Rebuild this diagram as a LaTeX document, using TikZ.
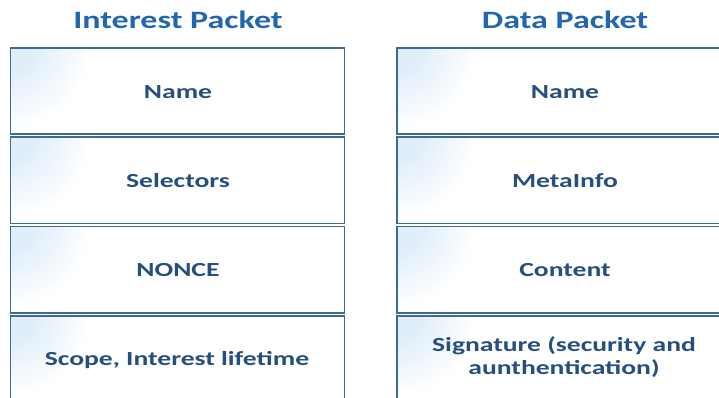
\documentclass[tikz,border=0pt]{standalone}
\usepackage{fontspec}
\setmainfont{Carlito}
\usepackage{graphicx}
\definecolor{titleblue}{HTML}{2366B0}
\definecolor{textblue}{HTML}{25507E}
\definecolor{edgeblue}{HTML}{3F6A94}
\definecolor{tintblue}{HTML}{E0EEFA}
\pgfdeclareradialshading{cornerglow}{\pgfpointorigin}{color(0bp)=(tintblue); color(1.5bp)=(tintblue); color(5bp)=(white); color(50bp)=(white)}
\tikzset{
  field/.style={draw=edgeblue, line width=1.9pt, minimum width=#1, minimum height=86.5pt,
    inner sep=0pt, anchor=north west,
    path picture={\shade[shading=cornerglow]
      ([xshift=-400pt,yshift=400pt]path picture bounding box.north west) rectangle
      ([xshift=400pt,yshift=-400pt]path picture bounding box.north west);}},
  field/.default=334pt,
  fieldtext/.style={text=textblue, font=\fontsize{20}{23.5}\selectfont\bfseries, align=center},
  headtext/.style={text=titleblue, font=\fontsize{25}{30}\selectfont\bfseries}
}
\newcommand{\wide}[1]{\scalebox{1.38}[1]{#1}}
\begin{document}
\begin{tikzpicture}[x=1pt,y=-1pt]
\useasboundingbox (0,0) rectangle (719,398);
\clip (0,0) rectangle (719,398);
\node[headtext] (th1) at (178,20) {\scalebox{1.36}[1]{Interest Packet}};
\node[headtext] (th2) at (565,20) {\scalebox{1.36}[1]{Data Packet}};
% left column
\node[field] (l1) at (9.5,47) {};
\node[field] (l2) at (9.5,136) {};
\node[field] (l3) at (9.5,225.5) {};
\node[field,minimum height=100pt] (l4) at (9.5,315) {};
% right column
\node[field=338pt] (r1) at (396,47) {};
\node[field=338pt] (r2) at (396,136) {};
\node[field=338pt] (r3) at (396,225.5) {};
\node[field=338pt,minimum height=100pt] (r4) at (396,315) {};
% texts
\node[fieldtext] (t1) at (178,92) {\wide{Name}};
\node[fieldtext] (t2) at (178,181) {\wide{Selectors}};
\node[fieldtext] (t3) at (178,270) {\wide{NONCE}};
\node[fieldtext] (t4) at (177,360) {\wide{Scope, Interest lifetime}};
\node[fieldtext] (u1) at (565,92) {\wide{Name}};
\node[fieldtext] (u2) at (565,181) {\wide{MetaInfo}};
\node[fieldtext] (u3) at (565,270) {\wide{Content}};
\node[fieldtext] (u4) at (564,357) {\wide{Signature (security and}\\\wide{aunthentication)}};
\end{tikzpicture}
\end{document}
